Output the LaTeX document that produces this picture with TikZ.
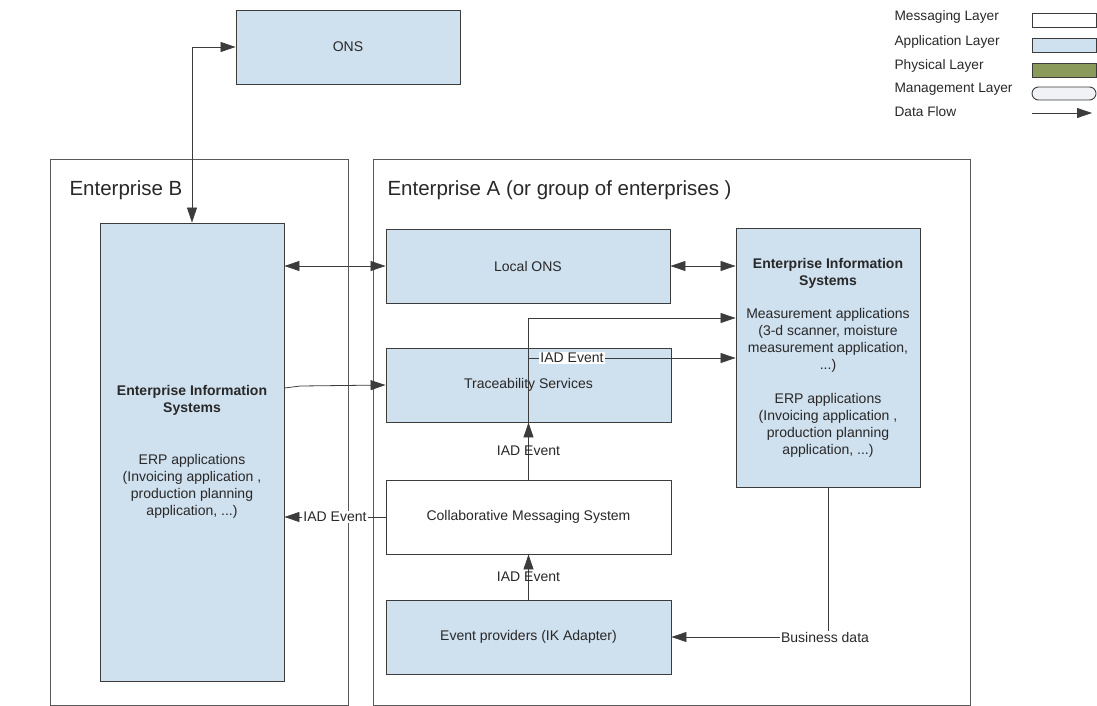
\documentclass[tikz,border=0pt]{standalone}
\usepackage{fontspec}
\setmainfont{Liberation Sans}
\usetikzlibrary{arrows.meta}

\definecolor{appblue}{RGB}{207,224,238}
\definecolor{physgreen}{RGB}{138,154,91}
\definecolor{mgmtgray}{RGB}{240,242,245}
\definecolor{linegray}{RGB}{60,60,60}
\definecolor{textgray}{RGB}{40,40,40}

\begin{document}
\begin{tikzpicture}[x=1pt,y=-1pt,font=\fontsize{14}{17}\selectfont,text=textgray,
  >={Triangle[length=15pt,width=10pt]},
  layer/.style={draw=linegray,line width=0.9pt,inner sep=0pt,align=center},
  app/.style={layer,fill=appblue},
  msg/.style={layer,fill=white},
  unit/.style={minimum width=285pt,minimum height=74pt},
  ent/.style={draw=linegray!85,line width=0.9pt,inner sep=0pt},
  title/.style={anchor=west,font=\fontsize{20.5}{24}\selectfont},
  flow/.style={draw=linegray,line width=0.8pt},
  tag/.style={inner sep=1pt}]

\useasboundingbox (0,0) rectangle (1097,706);

% enterprises
\node[ent,minimum width=298pt,minimum height=546pt] (entb) at (199,432) {};
\node[title] (entbtitle) at (66,190) {Enterprise B};
\node[ent,minimum width=597pt,minimum height=546pt] (enta) at (671.5,432) {};
\node[title] (entatitle) at (384,190) {Enterprise A (or group of enterprises )};

\node[app,minimum width=224pt,minimum height=74pt] (ons) at (348,47) {ONS};

\node[app,minimum width=184pt,minimum height=458pt] (eisb) at (192,452)
  {\textbf{Enterprise Information}\\\textbf{Systems}\\[35pt]ERP applications\\(Invoicing application ,\\production planning\\application, ...)};

\node[app,unit,minimum width=284pt] (lons) at (528,266) {Local ONS};
\node[app,minimum width=184pt,minimum height=259pt] (eisa) at (828,357.5)
  {\textbf{Enterprise Information}\\\textbf{Systems}\\[16pt]Measurement applications\\(3-d scanner, moisture\\measurement application,\\...)\\[17pt]ERP applications\\(Invoicing application ,\\production planning\\application, ...)};
\node[app,unit] (trace) at (528.5,385) {Traceability Services};
\node[msg,unit] (cms) at (528.5,517) {Collaborative Messaging System};
\node[app,unit] (evp) at (528.5,637) {Event providers (IK Adapter)};

% data flows
\draw[flow,<->] (eisb.north) |- (ons.west);
\draw[flow,<->] (eisb.east |- lons.west) -- (lons.west);
\draw[flow,<->] (lons.east) -- (eisa.west |- lons.east);
\draw[flow,->] ([yshift=-3pt]eisb.east |- trace.west) -- ++(16,-2) -- (trace.west);

\coordinate (t1) at (528.5,318);
\coordinate (t2) at (528.5,358);
\draw[flow,->] (cms.north) -- (trace.south) node[midway] (iad1) {IAD Event};
\draw[flow,->] (trace.south) -- (t1) -- (eisa.west |- t1);
\draw[flow,->] (t2) -- (eisa.west |- t2) node[pos=0.21,fill=white,tag] (iad2) {IAD Event};
\draw[flow,->] (cms.west) -- (eisb.east |- cms.west) node[midway,fill=white,tag] (iad3) {IAD Event};
\draw[flow,->] (evp.north) -- (cms.south) node[midway] (iad4) {IAD Event};

\node[tag] (bdata) at (825,637) {Business data};
\draw[flow] (eisa.south) -- (eisa.south |- bdata.north);
\draw[flow,->] (bdata.west) -- (evp.east);

% legend
\foreach \txt/\y [count=\i] in {Messaging Layer/17,Application Layer/42,Physical Layer/66,Management Layer/89,Data Flow/112}
  \node[anchor=west,font=\fontsize{13.7}{16}\selectfont] (key\i) at (891,\y) {\txt};
\node[msg,minimum width=64pt,minimum height=14pt] (keymsg) at (1064,20) {};
\node[app,minimum width=64pt,minimum height=14pt] (keyapp) at (1064,45) {};
\node[layer,fill=physgreen,minimum width=64pt,minimum height=14pt] (keyphys) at (1064,70) {};
\node[layer,fill=mgmtgray,rounded corners=6.5pt,minimum width=64pt,minimum height=13pt] (keymgmt) at (1064,93.5) {};
\coordinate (keyflow) at (1032,113);
\draw[flow,->] (keyflow) -- ++(60,0);

\end{tikzpicture}
\end{document}
